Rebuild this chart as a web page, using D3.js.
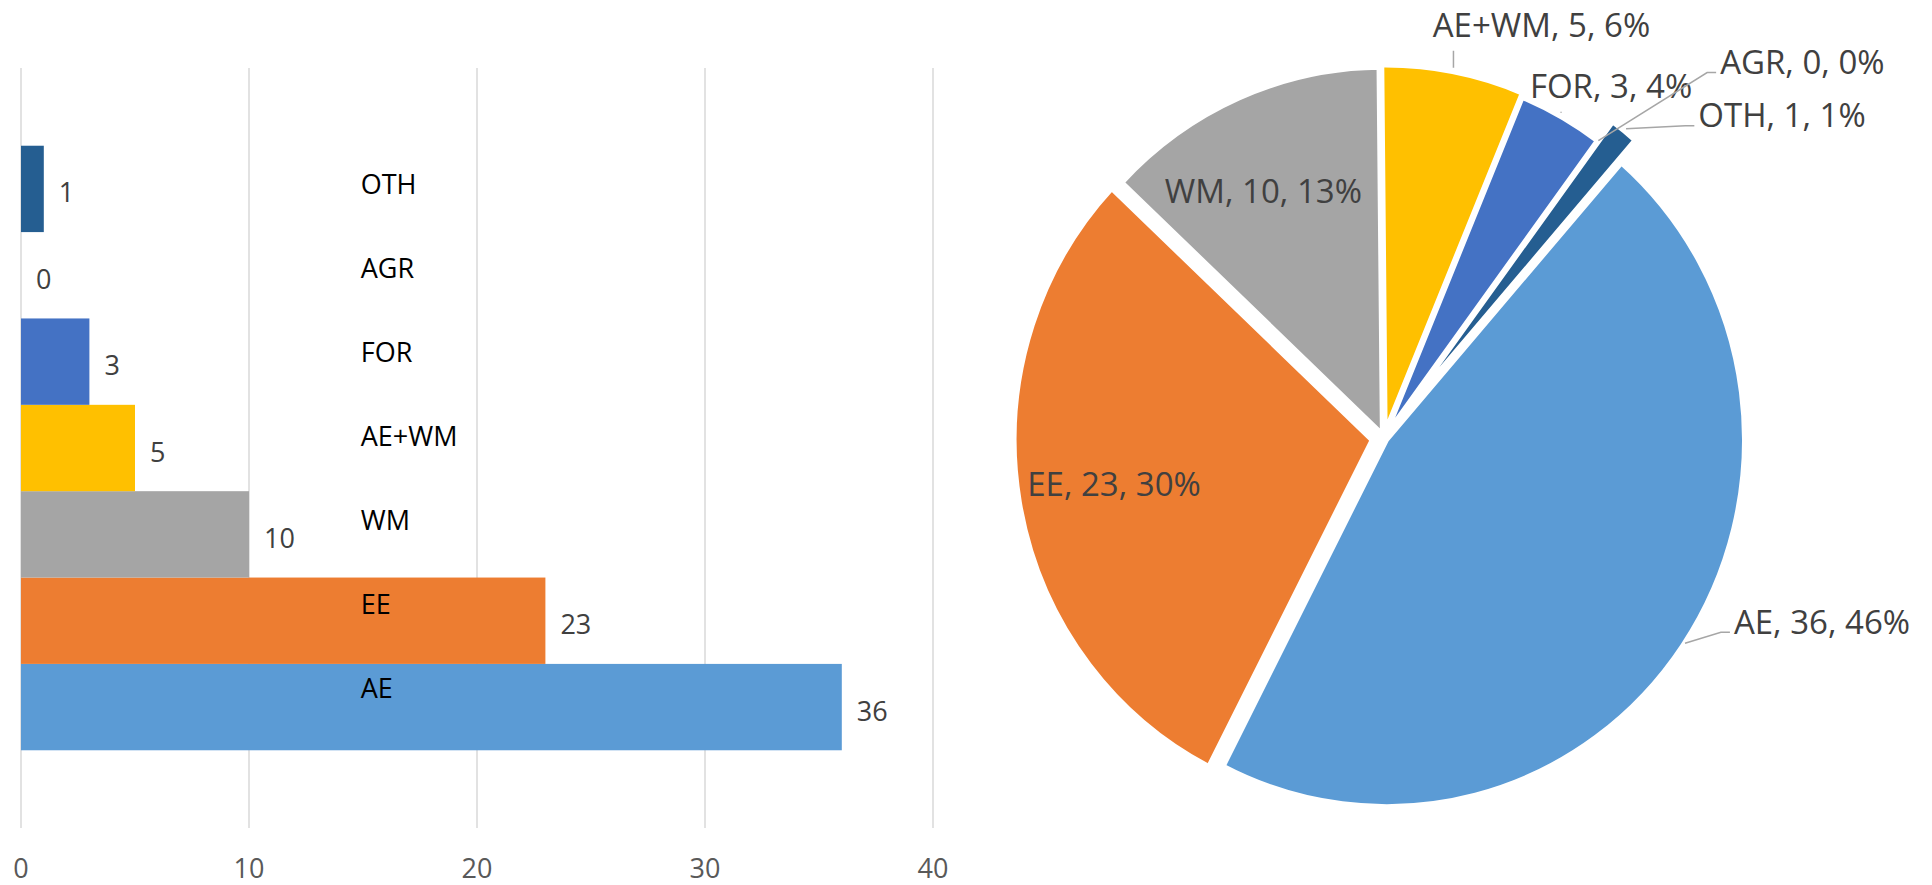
<!DOCTYPE html>
<html>
<head>
<meta charset="utf-8">
<script src="https://cdn.jsdelivr.net/npm/d3@7"></script>
<style>
  body { margin: 0; background: #fff; }
  text { font-family: "Open Sans", sans-serif; }
</style>
</head>
<body>
<script>
const W = 1932
const H = 885

// data
const categories = ['AE', 'EE', 'WM', 'AE+WM', 'FOR', 'AGR', 'OTH']
const counts = [36, 23, 10, 5, 3, 0, 1]
const pctLabels = ['46%', '30%', '13%', '6%', '4%', '0%', '1%']
const xTicks = [0, 10, 20, 30, 40]

const colors = ['#5B9BD5', '#ED7D31', '#A5A5A5', '#FFC000', '#4472C4', '#70AD47', '#255E91']

const svg = d3.select('body').append('svg').attr('width', W).attr('height', H)

// ---- bar chart ----
const x = d3.scaleLinear().domain([0, 40]).range([21, 933])
const y = d3.scaleBand().domain(categories.slice().reverse()).range([68, 828])
  .paddingInner(0).paddingOuter(0.9)
// the category names sit in their own column, slightly tighter than the bars
const yLab = d3.scalePoint().domain(categories.slice().reverse()).range([183, 687])

svg.append('g').selectAll('line').data(xTicks).enter().append('line')
  .attr('x1', d => x(d)).attr('x2', d => x(d))
  .attr('y1', 68).attr('y2', 828)
  .attr('stroke', '#D9D9D9').attr('stroke-width', 1.5)

svg.append('g').selectAll('text').data(xTicks).enter().append('text')
  .attr('x', d => x(d)).attr('y', 867)
  .attr('text-anchor', 'middle').attr('dominant-baseline', 'central')
  .attr('font-size', 27).attr('fill', '#595959')
  .text(d => d)

const bars = categories.map((c, i) => ({ cat: c, v: counts[i], col: colors[i] }))

svg.append('g').selectAll('rect').data(bars).enter().append('rect')
  .attr('x', x(0)).attr('y', d => y(d.cat))
  .attr('width', d => x(d.v) - x(0)).attr('height', y.bandwidth())
  .attr('fill', d => d.col)

svg.append('g').selectAll('text').data(bars).enter().append('text')
  .attr('x', d => x(d.v) + 15).attr('y', d => y(d.cat) + y.bandwidth() / 2 + 3)
  .attr('dominant-baseline', 'central')
  .attr('font-size', 27).attr('fill', '#404040')
  .text(d => d.v)

svg.append('g').selectAll('text').data(bars).enter().append('text')
  .attr('x', x(14.9)).attr('y', d => yLab(d.cat))
  .attr('dominant-baseline', 'central')
  .attr('font-size', 27).attr('fill', '#000')
  .text(d => d.cat)

// ---- pie chart ----
const cx = 1384, cy = 438, R = 358, sy = 1.025
const explode = [3, 12, 4, 6, 2, 0, 26]
// label shift: inside ones from the centroid, outside ones from the rim
const inside = [false, true, true, false, false, false, false]
const labelNudge = [[139, -24], [10, -4], [-10, 12], [88, -47], [50, -31], [206, -81], [158, -16]]

const rot = 41 * Math.PI / 180
const pie = d3.pie().sort(null).value(d => d.v).startAngle(rot).endAngle(rot + 2 * Math.PI)
const arc = d3.arc().innerRadius(0).outerRadius(R)
const arcs = pie(bars)

const unit = a => [Math.sin(a), -Math.cos(a)]

const pg = svg.append('g').attr('transform', `translate(${cx},${cy})`)
const slices = pg.append('g').attr('transform', `scale(1,${sy})`)

slices.selectAll('path').data(arcs.filter(a => a.value > 0)).enter().append('path')
  .attr('d', arc)
  .attr('transform', d => {
    const i = d.index, m = (d.startAngle + d.endAngle) / 2, u = unit(m)
    return `translate(${u[0] * explode[i]},${u[1] * explode[i]})`
  })
  .attr('fill', d => d.data.col)
  .attr('stroke', '#fff').attr('stroke-width', 5).attr('stroke-linejoin', 'round')

arcs.forEach(d => {
  const i = d.index
  const m = (d.startAngle + d.endAngle) / 2
  const u = unit(m)
  const label = d.data.cat + ', ' + d.data.v + ', ' + pctLabels[i]
  if (inside[i]) {
    const r = 0.76 * R + explode[i]
    pg.append('text')
      .attr('x', u[0] * r + labelNudge[i][0]).attr('y', u[1] * r * sy + labelNudge[i][1])
      .attr('text-anchor', 'middle').attr('dominant-baseline', 'central')
      .attr('font-size', 33).attr('fill', '#404040')
      .text(label)
    return
  }
  const ex = u[0] * (R + explode[i]), ey = u[1] * (R + explode[i]) * sy
  const lx = ex + labelNudge[i][0], ly = ey + labelNudge[i][1]
  const t = pg.append('text')
    .attr('x', lx).attr('y', ly)
    .attr('text-anchor', 'middle').attr('dominant-baseline', 'central')
    .attr('font-size', 33).attr('fill', '#404040')
    .text(label)
  const tw = t.node().getComputedTextLength()
  const left = lx - tw / 2, right = lx + tw / 2
  let pts
  if (ex > left && ex < right) {
    pts = [[ex, ey - 4], [ex, ly + 26]]
  } else {
    pts = [[ex + 2, ey - 2], [left - 13, ly + 11], [left - 4, ly + 11]]
  }
  pg.append('path')
    .attr('d', d3.line()(pts))
    .attr('fill', 'none').attr('stroke', '#A6A6A6').attr('stroke-width', 1.5)
})
</script>
</body>
</html>
